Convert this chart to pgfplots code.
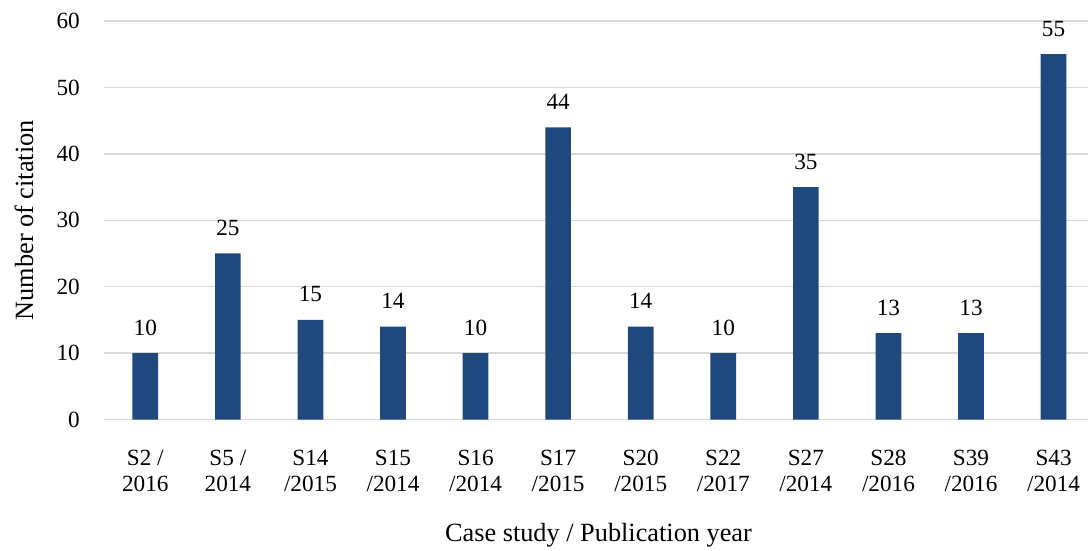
\documentclass[border=0pt]{standalone}
\usepackage{fontspec}
\setmainfont{Liberation Serif}
\usepackage{pgfplots}
\pgfplotsset{compat=1.18}
\definecolor{barblue}{HTML}{1F497D}
\definecolor{gridgray}{HTML}{D9D9D9}
\begin{document}
\begin{tikzpicture}
\useasboundingbox (-104pt,-130.5pt) rectangle (984pt,419.5pt);
\begin{axis}[
  at={(0,0)}, anchor=south west,
  scale only axis,
  width=984pt, height=398.5pt,
  xmin=-0.5, xmax=11.417,
  ymin=0, ymax=60,
  ytick={0,10,...,60},
  xtick={0,...,11},
  xticklabels={{S2 /\\2016},{S5 /\\2014},{S14\\/2015},{S15\\/2014},{S16\\/2014},{S17\\/2015},{S20\\/2015},{S22\\/2017},{S27\\/2014},{S28\\/2016},{S39\\/2016},{S43\\/2014}},
  /pgf/number format/assume math mode=true,
  axis line style={draw=none},
  major tick length=0pt,
  ymajorgrids,
  grid style={gridgray, line width=1.4pt},
  tick label style={font=\fontsize{23.2}{26.7}\selectfont},
  xticklabel style={align=center, anchor=north, inner sep=0pt, yshift=-30pt},
  yticklabel style={anchor=east, inner sep=0pt, xshift=-24pt},
  ybar, bar width=25.7pt,
  nodes near coords,
  every node near coord/.append style={anchor=south, inner sep=0pt, yshift=17.5pt, font=\fontsize{23.2}{26.7}\selectfont, text=black},
  xlabel={Case study / Publication year},
  ylabel={Number of citation},
  every axis x label/.style={at={(axis description cs:0.5025,0)}, anchor=base, yshift=-122pt, font=\fontsize{26.3}{30}\selectfont},
  every axis y label/.style={at={(axis description cs:0,0.5)}, rotate=90, anchor=center, yshift=80pt, font=\fontsize{26.3}{30}\selectfont},
  clip=false,
]
\addplot[fill=barblue, draw=none] coordinates {
  (0,10) (1,25) (2,15) (3,14) (4,10) (5,44) (6,14) (7,10) (8,35) (9,13) (10,13) (11,55)
};
\end{axis}
\end{tikzpicture}
\end{document}
